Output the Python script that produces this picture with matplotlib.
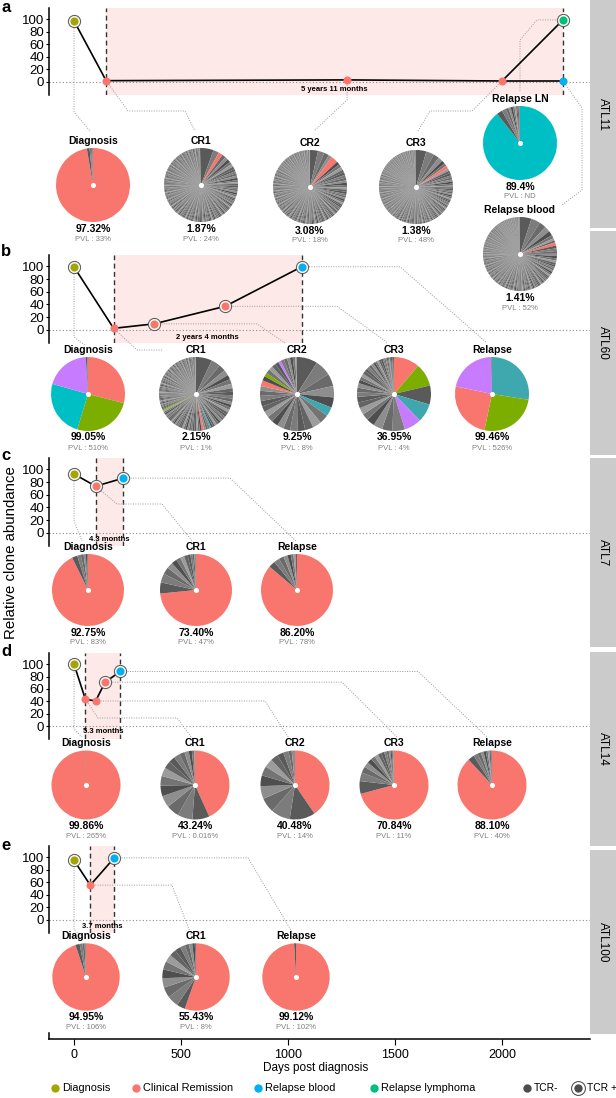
import matplotlib.pyplot as plt
from matplotlib.patches import Rectangle
from matplotlib.transforms import IdentityTransform

plt.rcParams['font.family'] = ['Liberation Sans', 'DejaVu Sans']

W, H = 616, 1098

# stage colours (line plots / legend)
DIAG = '#A3A500'
REM = '#F8766D'
RBLOOD = '#00B0F6'
RLYMPH = '#00BF7D'
STAGE_COL = {'dx': DIAG, 'cr': REM, 'rb': RBLOOD, 'rl': RLYMPH}
# clone colours inside the pies, 0 = other (grey) clones
CLONE = {1: '#F8766D', 2: '#7CAE00', 3: '#00BFC4', 4: '#C77CFF', 5: '#3FA7AE'}
GREYS = ['#5a5a5a', '#7c7c7c', '#6a6a6a', '#8e8e8e', '#4e4e4e', '#747474', '#9c9c9c', '#646464']
PINK = '#fde9e7'

XMIN, XMAX = -117, 2411
xticks = [0, 500, 1000, 1500, 2000]

# ---------------- ATL11 ----------------
atl11_days = [0, 150, 1276, 2000, 2285, 2285]
atl11_abund = [97.3, 1.9, 3.1, 1.4, 99.0, 1.4]
atl11_stage = ['dx', 'cr', 'cr', 'cr', 'rl', 'rb']
atl11_tcr = [1, 0, 0, 0, 1, 0]
atl11_links = [[0, 1, 2, 3, 4], [3, 5]]
atl11_names = ['Diagnosis', 'CR1', 'CR2', 'CR3', 'Relapse LN', 'Relapse blood']
atl11_pct = ['97.32%', '1.87%', '3.08%', '1.38%', '89.4%', '1.41%']
atl11_pvl = ['33%', '24%', '18%', '48%', 'ND', '52%']
# pies: (clone size %, number of clones of that size, clone id)
atl11_pies = [
    [(97.32, 1, 1), (1.2, 1, 0), (0.6, 1, 0), (0.4, 1, 0), (0.3, 1, 0), (0.18, 1, 0)],
    [(5.5, 1, 0), (2.5, 1, 0), (1.87, 1, 1), (1.6, 1, 0), (1.4, 2, 0), (1.2, 3, 0), (1.0, 5, 0),
     (0.8, 10, 0), (0.6, 25, 0), (0.5, 40, 0), (0.4, 85, 0)],
    [(3.5, 1, 0), (2.8, 1, 0), (2.2, 1, 0), (1.5, 1, 0), (3.08, 1, 1), (1.4, 3, 0), (1.2, 4, 0),
     (1.0, 6, 0), (0.8, 10, 0), (0.6, 20, 0), (0.5, 30, 0), (0.4, 50, 0), (0.3, 56, 0)],
    [(4.5, 1, 0), (3.5, 1, 0), (2.5, 1, 0), (2.0, 1, 0), (1.5, 1, 0), (1.2, 1, 0), (1.38, 1, 1),
     (1.1, 3, 0), (0.9, 5, 0), (0.7, 10, 0), (0.55, 20, 0), (0.45, 40, 0), (0.35, 60, 0), (0.25, 74, 0)],
    [(89.4, 1, 3), (2.5, 1, 0), (1.8, 1, 0), (1.2, 1, 0), (1.0, 1, 0), (0.9, 1, 0), (0.8, 1, 0),
     (0.7, 1, 0), (0.6, 1, 0), (0.5, 1, 0), (0.4, 1, 0), (0.2, 1, 0)],
    [(5.0, 1, 0), (4.0, 1, 0), (3.0, 1, 0), (2.5, 1, 0), (2.0, 1, 0), (1.5, 1, 0), (1.0, 1, 0),
     (0.9, 1, 0), (1.41, 1, 1), (1.2, 3, 0), (1.0, 5, 0), (0.8, 8, 0), (0.6, 15, 0), (0.5, 25, 0),
     (0.4, 40, 0), (0.3, 50, 0), (0.2, 56, 0)],
]

# ---------------- ATL60 ----------------
atl60_days = [0, 185, 374, 706, 1064]
atl60_abund = [99.05, 2.15, 9.25, 36.95, 99.46]
atl60_stage = ['dx', 'cr', 'cr', 'cr', 'rb']
atl60_tcr = [1, 0, 1, 1, 1]
atl60_links = [[0, 1, 2, 3, 4]]
atl60_names = ['Diagnosis', 'CR1', 'CR2', 'CR3', 'Relapse']
atl60_pct = ['99.05%', '2.15%', '9.25%', '36.95%', '99.46%']
atl60_pvl = ['510%', '1%', '8%', '4%', '526%']
atl60_pies = [
    [(29.0, 1, 1), (25.7, 1, 2), (24.7, 1, 3), (19.65, 1, 4), (0.5, 1, 0), (0.25, 1, 0), (0.2, 1, 0)],
    [(7.0, 1, 0), (4.0, 1, 0), (3.0, 1, 0), (2.5, 1, 0), (2.0, 3, 0), (1.5, 4, 0), (1.2, 5, 0),
     (1.0, 6, 0), (0.9, 3, 0), (0.6, 1, 5), (0.9, 3, 0), (1.0, 1, 1), (0.8, 12, 0), (0.7, 15, 0),
     (0.55, 1, 2), (0.5, 30, 0), (0.4, 42, 0)],
    [(9.0, 1, 0), (7.0, 1, 0), (5.5, 1, 0), (5.0, 1, 0), (4.5, 1, 0), (4.0, 1, 5), (4.0, 1, 0),
     (3.8, 1, 0), (3.6, 1, 0), (3.4, 1, 0), (3.2, 1, 0), (3.0, 1, 0), (2.9, 1, 0), (2.8, 1, 0),
     (2.7, 1, 0), (2.6, 1, 0), (2.5, 1, 0), (2.4, 1, 0), (2.3, 1, 0), (2.2, 1, 0), (2.1, 1, 0),
     (2.5, 1, 1), (2.0, 1, 0), (1.6, 1, 2), (1.9, 1, 0), (1.8, 1, 0), (1.7, 1, 0), (1.6, 1, 0),
     (1.15, 1, 4), (1.5, 1, 0), (1.4, 1, 0), (1.3, 1, 0), (1.2, 1, 0), (1.1, 1, 0), (0.75, 1, 0)],
    [(11.3, 1, 1), (10.0, 1, 2), (8.3, 1, 0), (8.1, 1, 5), (7.55, 1, 4), (5.5, 1, 0), (4.5, 1, 0),
     (4.0, 1, 0), (3.5, 1, 0), (3.0, 2, 0), (2.5, 2, 0), (2.0, 3, 0), (1.5, 4, 0), (1.2, 4, 0),
     (0.9, 5, 0), (0.6, 3, 0), (0.45, 7, 0)],
    [(27.5, 1, 5), (25.8, 1, 2), (25.0, 1, 1), (21.16, 1, 4), (0.3, 1, 0), (0.24, 1, 0)],
]

# ---------------- ATL7 ----------------
atl7_days = [0, 101, 230]
atl7_abund = [92.75, 73.40, 86.20]
atl7_stage = ['dx', 'cr', 'rb']
atl7_tcr = [1, 1, 1]
atl7_links = [[0, 1, 2]]
atl7_names = ['Diagnosis', 'CR1', 'Relapse']
atl7_pct = ['92.75%', '73.40%', '86.20%']
atl7_pvl = ['83%', '47%', '78%']
atl7_pies = [
    [(92.75, 1, 1), (2.4, 1, 0), (1.6, 1, 0), (1.3, 1, 0), (0.95, 1, 0), (0.6, 1, 0), (0.4, 1, 0)],
    [(73.4, 1, 1), (5.0, 1, 0), (4.0, 1, 0), (3.2, 1, 0), (2.8, 1, 0), (2.4, 1, 0), (2.0, 1, 0),
     (1.8, 1, 0), (1.6, 1, 0), (1.3, 1, 0), (1.0, 1, 0), (0.8, 1, 0), (0.6, 1, 0), (0.1, 1, 0)],
    [(86.2, 1, 1), (3.0, 1, 0), (2.5, 1, 0), (2.2, 1, 0), (1.8, 1, 0), (1.5, 1, 0), (1.2, 1, 0),
     (0.9, 1, 0), (0.7, 1, 0)],
]

# ---------------- ATL14 ----------------
atl14_days = [0, 53, 101, 145, 216]
atl14_abund = [99.86, 43.24, 40.48, 70.84, 88.10]
atl14_stage = ['dx', 'cr', 'cr', 'cr', 'rb']
atl14_tcr = [1, 0, 0, 1, 1]
atl14_links = [[0, 1, 2, 3, 4]]
atl14_names = ['Diagnosis', 'CR1', 'CR2', 'CR3', 'Relapse']
atl14_pct = ['99.86%', '43.24%', '40.48%', '70.84%', '88.10%']
atl14_pvl = ['265%', '0.016%', '14%', '11%', '40%']
atl14_pies = [
    [(99.86, 1, 1), (0.14, 1, 0)],
    [(43.24, 1, 1), (8, 1, 0), (7, 1, 0), (6, 1, 0), (5.5, 1, 0), (5, 1, 0), (4.5, 1, 0), (4, 1, 0),
     (3.5, 1, 0), (3, 1, 0), (2.8, 1, 0), (2.5, 1, 0), (2, 1, 0), (1.5, 1, 0), (1.2, 1, 0), (0.26, 1, 0)],
    [(40.48, 1, 1), (12, 1, 0), (9, 1, 0), (7, 1, 0), (6, 1, 0), (5, 1, 0), (4.5, 1, 0), (4, 1, 0),
     (3.5, 1, 0), (3, 1, 0), (2.5, 1, 0), (1.5, 1, 0), (1.52, 1, 0)],
    [(70.84, 1, 1), (6, 1, 0), (4, 1, 0), (3, 1, 0), (2.5, 1, 0), (2.2, 1, 0), (2, 1, 0), (1.8, 1, 0),
     (1.6, 1, 0), (1.4, 1, 0), (1.2, 1, 0), (1, 1, 0), (0.8, 1, 0), (0.6, 1, 0), (0.5, 1, 0),
     (0.4, 1, 0), (0.16, 1, 0)],
    [(88.1, 1, 1), (3, 1, 0), (2, 1, 0), (1.6, 1, 0), (1.3, 1, 0), (1.1, 1, 0), (0.9, 1, 0),
     (0.8, 1, 0), (0.6, 1, 0), (0.4, 1, 0), (0.2, 1, 0)],
]

# ---------------- ATL100 ----------------
atl100_days = [0, 76, 188]
atl100_abund = [94.95, 55.43, 99.12]
atl100_stage = ['dx', 'cr', 'rb']
atl100_tcr = [1, 0, 1]
atl100_links = [[0, 1, 2]]
atl100_names = ['Diagnosis', 'CR1', 'Relapse']
atl100_pct = ['94.95%', '55.43%', '99.12%']
atl100_pvl = ['106%', '8%', '102%']
atl100_pies = [
    [(94.95, 1, 1), (2.0, 1, 0), (1.4, 1, 0), (1.0, 1, 0), (0.65, 1, 0)],
    [(55.43, 1, 1), (4.0, 1, 0), (5.5, 1, 0), (5.0, 1, 0), (4.5, 1, 0), (4.2, 1, 0), (4.0, 1, 0),
     (3.6, 1, 0), (3.2, 1, 0), (2.8, 1, 0), (2.4, 1, 0), (2.0, 1, 0), (1.6, 1, 0), (1.2, 1, 0),
     (0.57, 1, 0)],
    [(99.12, 1, 1), (0.88, 1, 0)],
]

# layout of each panel (pixels, origin top-left)
panels = [
    dict(label='a', strip='ATL11', interval='5 years 11 months', days=atl11_days, abund=atl11_abund,
         stage=atl11_stage, tcr=atl11_tcr, links=atl11_links, names=atl11_names, pct=atl11_pct,
         pvl=atl11_pvl, pies=atl11_pies, box=(8, 95), ty=-12, letter_y=7, strip_y=(0, 228),
         centers=[(93, 185), (201, 185), (310, 187), (416, 187), (520, 143), (520, 254)], r=37,
         routes=[[(None, 112), (90, 131)],
                 [(128, 111), (185, 111), (195, 131)],
                 [(None, 100), (314, 131)],
                 [(472, 111), (430, 111), (418, 131)],
                 [(537, None), (520, 40), (520, 92)],
                 [(582, 108), (582, 190), (562, 205)]]),
    dict(label='b', strip='ATL60', interval='2 years 4 months', days=atl60_days, abund=atl60_abund,
         stage=atl60_stage, tcr=atl60_tcr, links=atl60_links, names=atl60_names, pct=atl60_pct,
         pvl=atl60_pvl, pies=atl60_pies, box=(255, 343), ty=-13, letter_y=252, strip_y=(231, 455),
         centers=[(88, 394), (196, 394), (297, 394), (394, 394), (492, 394)], r=37,
         routes=[[(None, 337), (85, 345)],
                 [(137, 350), (163, 350)],
                 [(257, None), (285, 343)],
                 [(337, None), (388, 343)],
                 [(400, None), (487, 343)]]),
    dict(label='c', strip='ATL7', interval='4.3 months', days=atl7_days, abund=atl7_abund,
         stage=atl7_stage, tcr=atl7_tcr, links=atl7_links, names=atl7_names, pct=atl7_pct,
         pvl=atl7_pvl, pies=atl7_pies, box=(458, 546), ty=-10, letter_y=455, strip_y=(458, 647),
         centers=[(88, 590), (196, 590), (297, 590)], r=36,
         routes=[[(None, 521), (82, 541)],
                 [(117, 504), (162, 504), (193, 542)],
                 [(230, None), (297, 542)]]),
    dict(label='d', strip='ATL14', interval='5.3 months', days=atl14_days, abund=atl14_abund,
         stage=atl14_stage, tcr=atl14_tcr, links=atl14_links, names=atl14_names, pct=atl14_pct,
         pvl=atl14_pvl, pies=atl14_pies, box=(653, 739), ty=-9, letter_y=651, strip_y=(652, 846),
         centers=[(86, 785), (195, 785), (295, 785), (394, 785), (492, 785)], r=34.5,
         routes=[[(None, 729), (82, 737)],
                 [(98, 718), (177, 718), (192, 738)],
                 [(265, None), (290, 740)],
                 [(342, None), (397, 737)],
                 [(418, None), (487, 737)]]),
    dict(label='e', strip='ATL100', interval='3.7 months', days=atl100_days, abund=atl100_abund,
         stage=atl100_stage, tcr=atl100_tcr, links=atl100_links, names=atl100_names, pct=atl100_pct,
         pvl=atl100_pvl, pies=atl100_pies, box=(846, 933), ty=-11, letter_y=846, strip_y=(850, 1034),
         centers=[(86, 977), (196, 977), (296, 977)], r=33.7,
         routes=[[(None, 930), (82, 936)],
                 [(172, None), (192, 937)],
                 [(248, None), (295, 937)]]),
]


def px_box(x0, y0, x1, y1):
    return [x0 / W, 1 - y1 / H, (x1 - x0) / W, (y1 - y0) / H]


def expand(spec):
    vals, cols = [], []
    k = 0
    for size, n, clone in spec:
        for _ in range(n):
            vals.append(size)
            if clone:
                cols.append(CLONE[clone])
            else:
                cols.append(GREYS[k % len(GREYS)])
                k += 1
    return vals, cols


fig = plt.figure(figsize=(W / 100, H / 100), dpi=100)

for p in panels:
    top, bottom = p['box']
    ax = fig.add_axes(px_box(49, top, 590, bottom))
    ax.patch.set_alpha(0)
    ax.set_xlim(XMIN, XMAX)
    ax.set_ylim(-21, 118)
    for s in ['top', 'right', 'bottom']:
        ax.spines[s].set_visible(False)
    ax.spines['left'].set_linewidth(1.1)
    ax.set_xticks([])
    ax.set_yticks([0, 20, 40, 60, 80, 100])
    ax.tick_params(axis='y', labelsize=9.5, length=2, pad=1.5)

    days, ab, st = p['days'], p['abund'], p['stage']
    cr_day = days[st.index('cr')]
    rel_day = max(days)
    ax.axvspan(cr_day, rel_day, color=PINK, lw=0, zorder=0)
    for d in (cr_day, rel_day):
        ax.axvline(d, color='#333333', ls=(0, (3.5, 2.5)), lw=1.0, zorder=1)
    ax.axhline(0, color='#8c8c8c', ls=(0, (1, 2)), lw=0.8, zorder=1)
    ax.text((cr_day + rel_day) / 2, p['ty'], p['interval'], ha='center', va='center',
            fontsize=5.5, fontweight='bold')

    # connectors from each time point to its pie
    for i, route in enumerate(p['routes']):
        sx, sy = ax.transData.transform((days[i], ab[i]))
        xs, ys = [sx], [sy]
        for wx, wy in route:
            xs.append(sx if wx is None else wx)
            ys.append(sy if wy is None else H - wy)
        ax.plot(xs, ys, transform=IdentityTransform(), clip_on=False, color='#9a9a9a',
                ls=(0, (1, 1.5)), lw=0.7, zorder=2)

    for link in p['links']:
        ax.plot([days[i] for i in link], [ab[i] for i in link], color='black', lw=1.2, zorder=3)
    for d, v, s, t in zip(days, ab, st, p['tcr']):
        if t:
            ax.plot(d, v, 'o', ms=8.8, mfc='#f4f4ee', mec='#555555', mew=0.7, zorder=4, clip_on=False)
        ax.plot(d, v, 'o', ms=5.8, color=STAGE_COL[s], mec='none', zorder=5, clip_on=False)

    # pies
    r = p['r']
    for (cx, cy), spec, name, pct, pvl in zip(p['centers'], p['pies'], p['names'], p['pct'], p['pvl']):
        pax = fig.add_axes(px_box(cx - r, cy - r, cx + r, cy + r))
        vals, cols = expand(spec)
        pax.pie(vals, colors=cols, startangle=90, counterclock=False, wedgeprops=dict(linewidth=0))
        pax.set_xlim(-1, 1)
        pax.set_ylim(-1, 1)
        pax.scatter([0], [0], s=7, color='white', zorder=5)
        fig.text(cx / W, 1 - (cy - r - 7) / H, name, ha='center', va='center',
                 fontsize=7.5, fontweight='bold')
        fig.text(cx / W, 1 - (cy + r + 6.5) / H, pct, ha='center', va='center',
                 fontsize=7.5, fontweight='bold')
        fig.text(cx / W, 1 - (cy + r + 17) / H, 'PVL : ' + pvl, ha='center', va='center',
                 fontsize=5.5, color='#808080')

    # strip + panel letter
    y0, y1 = p['strip_y']
    fig.patches.append(Rectangle((590 / W, 1 - y1 / H), 26 / W, (y1 - y0) / H,
                                 transform=fig.transFigure, color='#cbcbcb', lw=0))
    fig.text(603 / W, 1 - (y0 + y1) / 2 / H, p['strip'], rotation=270, ha='center', va='center',
             fontsize=8.5)
    fig.text(6 / W, 1 - p['letter_y'] / H, p['label'], ha='center', va='center',
             fontsize=12, fontweight='bold')

# shared bottom axis
bax = fig.add_axes(px_box(49, 1033, 590, 1039))
bax.patch.set_alpha(0)
bax.set_xlim(XMIN, XMAX)
bax.set_yticks([])
bax.spines['top'].set_visible(False)
bax.spines['right'].set_visible(False)
bax.spines['bottom'].set_linewidth(1.1)
bax.spines['left'].set_linewidth(1.1)
bax.set_xticks(xticks)
bax.tick_params(axis='x', labelsize=9, length=4, pad=3)
fig.text(316 / W, 1 - 1068 / H, 'Days post diagnosis', ha='center', va='center', fontsize=8.5)
fig.text(11 / W, 1 - 553 / H, 'Relative clone abundance', rotation=90, ha='center', va='center',
         fontsize=10.8)

# legend row
leg_labels = ['Diagnosis', 'Clinical Remission', 'Relapse blood', 'Relapse lymphoma', 'TCR-', 'TCR +']
leg_colors = [DIAG, REM, RBLOOD, RLYMPH, '#4d4d4d', '#4d4d4d']
leg_ring = [0, 0, 0, 0, 0, 1]
leg_x = [55, 136, 258, 374, 527, 578]
leg_size = [7.9, 7.9, 7.9, 7.9, 7.4, 7.4]
lax = fig.add_axes(px_box(0, 1078, W, 1098))
lax.set_xlim(0, W)
lax.set_ylim(0, 1)
lax.axis('off')
for x, lab, c, ring, fs in zip(leg_x, leg_labels, leg_colors, leg_ring, leg_size):
    if ring:
        lax.plot(x, 0.5, 'o', ms=10, mfc='white', mec='#555555', mew=0.8, clip_on=False)
    lax.plot(x, 0.5, 'o', ms=6, color=c, mec='none', clip_on=False)
    lax.text(x + 7 + 2 * ring, 0.5, lab, ha='left', va='center', fontsize=fs)

fig.savefig('out.png', dpi=100)
